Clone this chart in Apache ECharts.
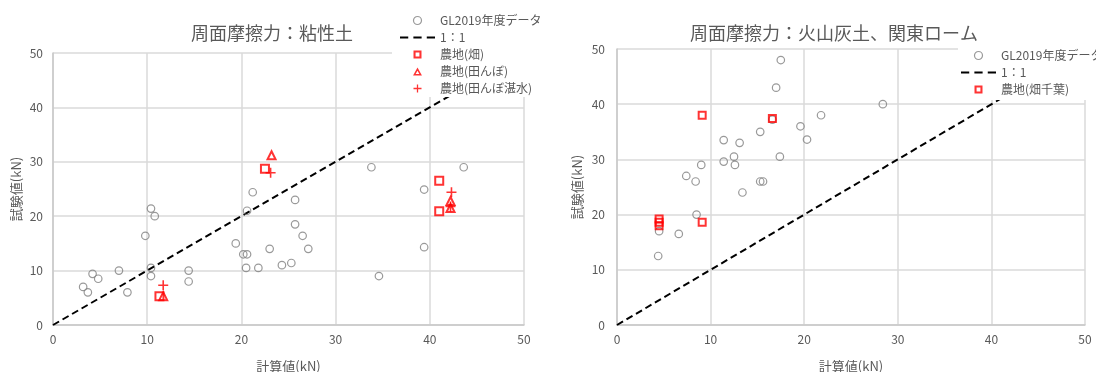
<!DOCTYPE html>
<html>
<head>
<meta charset="utf-8">
<script src="https://cdn.jsdelivr.net/npm/echarts@6/dist/echarts.min.js"></script>
<style>
  html, body { margin: 0; padding: 0; background: #fff; }
  #chart { width: 1096px; height: 372px; }
</style>
</head>
<body>
<div id="chart"></div>
<script>
// 周面摩擦力：計算値(kN) vs 試験値(kN)

// --- 粘性土 ---
const clayGL = [
  [3.2, 7.0], [3.7, 6.0], [4.2, 9.4], [4.8, 8.5], [7.0, 10.0], [7.9, 6.0],
  [9.8, 16.4], [10.4, 21.4], [10.8, 20.0], [10.4, 10.5], [10.4, 9.0],
  [14.4, 10.0], [14.4, 8.0], [19.4, 15.0], [20.2, 13.0], [20.6, 13.0],
  [20.5, 10.5], [21.8, 10.5], [20.6, 21.0], [21.2, 24.4], [23.0, 14.0],
  [24.3, 11.0], [25.3, 11.4], [25.7, 23.0], [25.7, 18.5], [26.5, 16.4],
  [27.1, 14.0], [33.8, 29.0], [34.6, 9.0], [39.4, 24.9], [39.4, 14.3],
  [43.6, 29.0]
];
const clayField = [[22.5, 28.7], [41.0, 26.5], [41.0, 20.9], [11.3, 5.3]];
const clayPaddy = [[23.2, 31.2], [42.2, 22.8], [42.2, 21.5], [11.7, 5.3]];
const clayPaddyFlooded = [[23.1, 28.0], [42.3, 24.4], [42.2, 21.8], [11.7, 7.3]];

// --- 火山灰土、関東ローム ---
const loamGL = [
  [17.5, 48.0], [17.0, 43.0], [28.4, 40.0], [21.8, 38.0], [19.6, 36.0],
  [20.3, 33.6], [15.3, 35.0], [16.6, 37.2], [11.4, 33.5], [13.1, 33.0],
  [12.5, 30.5], [11.4, 29.6], [12.6, 29.0], [17.4, 30.5], [9.0, 29.0],
  [7.4, 27.0], [8.4, 26.0], [13.4, 24.0], [15.3, 26.0], [15.6, 26.0],
  [8.5, 20.0], [4.5, 17.0], [6.6, 16.5], [4.4, 12.5]
];
const loamFieldChiba = [[9.1, 38.0], [16.6, 37.4], [9.1, 18.6], [4.5, 19.2], [4.5, 18.6], [4.5, 18.0]];

// 1：1 reference line
const oneToOne = [[0, 0], [50, 50]];

const titles = ['周面摩擦力：粘性土', '周面摩擦力：火山灰土、関東ローム'];
const xName = '計算値(kN)';
const yName = '試験値(kN)';
const axisMin = 0, axisMax = 50, axisStep = 10;

const FONT = '"Noto Sans CJK JP", "Noto Sans", sans-serif';
const GRAY = '#595959';
const RED = '#ff0000';
const PLUS = 'path://M4.2,0H5.8V4.2H10V5.8H5.8V10H4.2V5.8H0V4.2H4.2Z';
// legend icons drawn as filled outlines so they keep their proportions
const DASH_ICON = 'path://M0,0H8V2H0Z M13,0H21V2H13Z M26,0H34V2H26Z';
const SQUARE_ICON = 'path://M0,0H10V10H0Z M2.6,2.6V7.4H7.4V2.6Z';
const TRIANGLE_ICON = 'path://M5,0L10,9H0Z M5,3.6L2.9,7.4H7.1Z';

const chart = echarts.init(document.getElementById('chart'), null, { renderer: 'canvas' });

function makeAxis(gridIndex, isX, gap, labelMargin) {
  return {
    type: 'value', gridIndex,
    min: axisMin, max: axisMax, interval: axisStep,
    name: isX ? xName : yName,
    nameLocation: 'middle', nameGap: gap,
    nameTextStyle: { color: GRAY, fontSize: 13, fontFamily: FONT },
    axisLine: { show: true, lineStyle: { color: '#c8c8c8', width: 1.5 } },
    axisTick: { show: false },
    axisLabel: { color: GRAY, fontSize: 12, fontFamily: FONT, margin: labelMargin },
    splitLine: { show: true, lineStyle: { color: '#dadada', width: 1.5 } }
  };
}

const glStyle = { color: 'rgba(255,255,255,0)', borderColor: '#808080', borderWidth: 1.2 };
const sqStyle = { color: 'rgba(255,255,255,0)', borderColor: RED, borderWidth: 2 };
const lineStyle = { color: '#000', width: 2, type: [7, 4] };

function scatter(name, data, idx, symbol, size, style, z) {
  return {
    type: 'scatter', name, data, xAxisIndex: idx, yAxisIndex: idx,
    symbol, symbolSize: size, symbolKeepAspect: true, itemStyle: style, z: z || 3
  };
}

const legendText = { color: GRAY, fontSize: 12, fontFamily: FONT, lineHeight: 17 };
const glItem = { name: 'GL2019年度データ', icon: 'circle', itemStyle: { borderWidth: 1.2 } };
const lineItem = { name: '1：1', icon: DASH_ICON, itemStyle: { color: '#000', borderWidth: 0 } };
const redSolid = { color: RED, borderWidth: 0 };

chart.setOption({
  animation: false,
  backgroundColor: '#fff',
  title: [
    { text: titles[0], left: 267, top: 19, textAlign: 'center',
      textStyle: { color: GRAY, fontSize: 18, fontWeight: 'normal', fontFamily: FONT } },
    { text: titles[1], left: 829, top: 19, textAlign: 'center',
      textStyle: { color: GRAY, fontSize: 18, fontWeight: 'normal', fontFamily: FONT } }
  ],
  grid: [
    { left: 53, top: 53, width: 471, height: 272, outerBoundsMode: 'none', containLabel: false },
    { left: 617, top: 49, width: 468, height: 276, outerBoundsMode: 'none', containLabel: false }
  ],
  xAxis: [makeAxis(0, true, 35, 8), makeAxis(1, true, 35, 8)],
  yAxis: [makeAxis(0, false, 30, 10), makeAxis(1, false, 33, 12)],
  legend: [
    {
      orient: 'vertical', left: 392, top: 0,
      padding: [12, 8, 0, 8], itemWidth: 35, itemHeight: 8, itemGap: 0,
      symbolKeepAspect: true,
      backgroundColor: '#fff', textStyle: legendText,
      data: [
        glItem,
        lineItem,
        { name: '農地(畑)', icon: SQUARE_ICON, itemStyle: redSolid },
        { name: '農地(田んぼ)', icon: TRIANGLE_ICON, itemStyle: redSolid },
        { name: '農地(田んぼ湛水)', icon: PLUS, itemStyle: redSolid }
      ]
    },
    {
      orient: 'vertical', left: 958, top: 40,
      padding: [7, 4, 2, 3], itemWidth: 35, itemHeight: 8, itemGap: 0,
      symbolKeepAspect: true,
      backgroundColor: '#fff', textStyle: legendText,
      data: [
        glItem,
        lineItem,
        { name: '農地(畑千葉)', icon: SQUARE_ICON, itemStyle: redSolid }
      ]
    }
  ],
  series: [
    scatter('GL2019年度データ', clayGL, 0, 'circle', 7.5, glStyle, 2),
    {
      type: 'line', name: '1：1', data: oneToOne, xAxisIndex: 0, yAxisIndex: 0,
      symbol: 'none', lineStyle, itemStyle: { color: '#000' }, z: 2
    },
    scatter('農地(畑)', clayField, 0, 'rect', 8, sqStyle),
    scatter('農地(田んぼ)', clayPaddy, 0, 'triangle', 8, sqStyle),
    scatter('農地(田んぼ湛水)', clayPaddyFlooded, 0, PLUS, 10, { color: RED }),

    scatter('GL2019年度データ', loamGL, 1, 'circle', 7.5, glStyle, 2),
    {
      type: 'line', name: '1：1', data: oneToOne, xAxisIndex: 1, yAxisIndex: 1,
      symbol: 'none', lineStyle, itemStyle: { color: '#000' }, z: 2
    },
    scatter('農地(畑千葉)', loamFieldChiba, 1, 'rect', 7, sqStyle)
  ]
});
</script>
</body>
</html>
